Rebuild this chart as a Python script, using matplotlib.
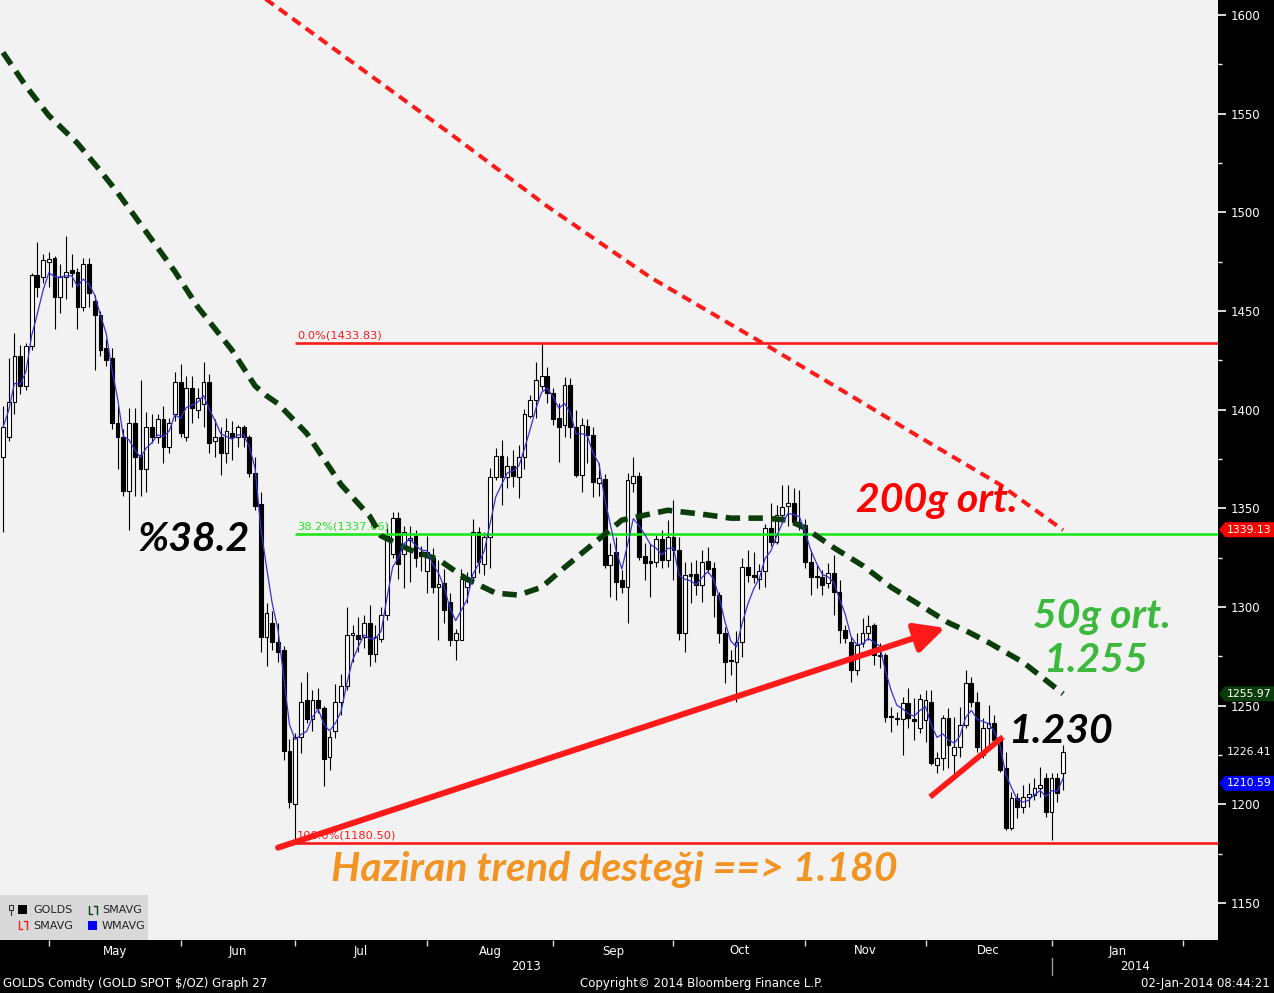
import matplotlib

matplotlib.use("Agg")
import matplotlib.pyplot as plt
import matplotlib.transforms as mtransforms
from matplotlib.lines import Line2D
from matplotlib.patches import Polygon, Rectangle
import numpy as np
import pandas as pd

# GOLDS daily candles, one per weekday, first bar 19-Apr-2013
FIRST_DAY = "2013-04-19"

OPEN = [
    1376, 1386, 1404, 1427, 1412, 1432, 1468, 1467, 1475, 1477,
    1457, 1467, 1471, 1470, 1452, 1474, 1455, 1448, 1431, 1426,
    1393, 1386, 1359, 1393, 1377, 1370, 1391, 1386, 1395, 1381,
    1398, 1414, 1386, 1411, 1400, 1403, 1414,
    1384, 1386, 1378, 1388, 1386, 1391, 1386, 1368, 1352, 1285,
    1292, 1282, 1278, 1227, 1200, 1234, 1253, 1243, 1253, 1249,
    1224, 1237, 1252, 1260, 1286, 1286, 1285, 1292, 1276, 1284,
    1296, 1327, 1345, 1327, 1334, 1336, 1328, 1318, 1325,
    1310, 1312, 1302.5, 1283, 1283, 1310, 1315, 1338, 1322, 1335.5,
    1366, 1376.5, 1366, 1371.5, 1366, 1376, 1397, 1405, 1412, 1417,
    1408.5, 1396, 1392, 1412.5, 1391.3, 1367, 1391.7, 1387, 1363, 1365,
    1321.3, 1327.9, 1313.7, 1310, 1362.8, 1366.4, 1325.8,
    1323.5, 1323, 1334.5, 1324, 1335.5, 1329, 1287, 1316.7, 1316.7, 1311,
    1323.3, 1319.8, 1306, 1287, 1273, 1272, 1282, 1320.3, 1316, 1314,
    1318, 1340, 1333, 1346.6, 1351, 1352.7, 1343, 1341.5, 1322.8, 1315.5,
    1315, 1312, 1317.2, 1307.6, 1288.3, 1282.3, 1268, 1281.8,
    1286.8, 1291, 1275.5, 1275.7, 1244.5, 1243, 1243, 1251.3, 1243, 1238.7,
    1242.7, 1251.9, 1220, 1223.5, 1243.8, 1225, 1229, 1240, 1261.5, 1252,
    1225, 1238.7, 1241.2, 1232.6, 1218.4, 1188, 1203.2, 1198.6, 1203.7, 1204.7,
    1208.3, 1213.3, 1196.1, 1213.3, 1215.9,
]
HIGH = [
    1402, 1426, 1439, 1433, 1434, 1469, 1485, 1479, 1480, 1478,
    1474, 1488, 1479, 1472, 1477, 1477, 1458, 1450, 1436, 1431,
    1402, 1390, 1401, 1401, 1415, 1399, 1398, 1398, 1402, 1396,
    1419, 1423, 1417, 1417, 1411, 1424, 1418,
    1395, 1391, 1396, 1394, 1392, 1392, 1387, 1376, 1358, 1302,
    1298, 1292, 1280, 1233, 1236, 1262, 1267, 1258, 1259, 1250,
    1237, 1261, 1266, 1300, 1291, 1295, 1296, 1301, 1291, 1300,
    1342, 1348, 1348, 1341, 1341, 1339, 1331, 1336, 1330,
    1324, 1319, 1307, 1289, 1319, 1317.5, 1344.6, 1340.5, 1338, 1370.4,
    1380.6, 1384.6, 1376.5, 1379.6, 1382, 1400.3, 1407.4, 1424, 1433.8, 1421.6,
    1411, 1403.4, 1416.5, 1416, 1400, 1396, 1395, 1391, 1373, 1367.4,
    1332.4, 1335.5, 1318.7, 1368, 1376, 1368.4, 1332.4,
    1332, 1336.5, 1339, 1344, 1354, 1335.5, 1322.8, 1322.8, 1323.8, 1329,
    1330.4, 1323, 1307.6, 1289.9, 1278, 1288, 1325, 1329, 1328, 1322,
    1342, 1352.7, 1351.7, 1362, 1362, 1360.3, 1359.3, 1344.6, 1329, 1321.3,
    1318.7, 1322.3, 1326.3, 1313.7, 1290.9, 1284.8, 1286.8, 1294.4,
    1296, 1292, 1281.8, 1276.7, 1249.3, 1246.8, 1254.4, 1259, 1254, 1256,
    1258, 1258, 1226.5, 1245.2, 1248.8, 1244.3, 1249.3, 1268.1, 1264.5, 1257,
    1243.8, 1250.3, 1245.2, 1234, 1226.5, 1206.2, 1205.7, 1209.8, 1210.8, 1213.3,
    1219, 1215.9, 1215.9, 1215.9, 1230,
]
LOW = [
    1338, 1384, 1398, 1408, 1410, 1430, 1457, 1464, 1462, 1441,
    1449, 1456, 1462, 1441, 1450, 1452, 1420, 1427, 1422, 1390,
    1370, 1356, 1339, 1356, 1356, 1358, 1383, 1383, 1373, 1378,
    1394, 1386, 1384, 1393, 1396, 1391, 1378,
    1376, 1367, 1373, 1374.5, 1381, 1381, 1366, 1349, 1277, 1270,
    1278, 1272, 1222.5, 1198, 1180.5, 1226, 1241, 1237, 1246, 1209,
    1217.5, 1233.5, 1245, 1258, 1272, 1277, 1279, 1270, 1272, 1282,
    1293.4, 1325, 1314, 1309.6, 1312.7, 1320, 1318, 1307, 1307,
    1283, 1292, 1280, 1273, 1283, 1302, 1312, 1317, 1316, 1319.8,
    1364.3, 1351.7, 1360.3, 1360.8, 1355, 1370, 1395.8, 1396, 1410, 1403.4,
    1392.2, 1373.5, 1386, 1385.6, 1366, 1358, 1373, 1355.7, 1356, 1319.8,
    1305, 1303.5, 1307, 1291.9, 1358, 1323.8, 1313.7,
    1305, 1320, 1319.8, 1320, 1313.7, 1283, 1277, 1302, 1306, 1302.5,
    1317.2, 1295, 1281.8, 1261.5, 1265.5, 1251.8, 1274.7, 1312.7, 1312, 1309,
    1310, 1331, 1332, 1342.5, 1341, 1341.5, 1339, 1319.8, 1306, 1309.6,
    1306, 1309.6, 1295.9, 1281.8, 1281.8, 1262, 1265.5, 1279.7,
    1283, 1270.6, 1269, 1241.7, 1236.7, 1240, 1225, 1238.7, 1232.6, 1236,
    1231.6, 1219.9, 1215.9, 1217.4, 1218.4, 1214.9, 1224, 1238.7, 1249.3, 1226.5,
    1223.5, 1229, 1231, 1216.4, 1187, 1187, 1193, 1195.6, 1198.6, 1202.2,
    1203.7, 1193.6, 1181.9, 1201.2, 1207.3,
]
CLOSE = [
    1391, 1404, 1427, 1412, 1432, 1468, 1462, 1476, 1476.5, 1457,
    1467, 1470, 1469, 1452, 1474, 1459, 1448, 1430, 1425, 1393,
    1386, 1359, 1393, 1376, 1370, 1391, 1386, 1395, 1381, 1393,
    1414, 1388, 1411, 1401, 1406, 1414, 1383,
    1386, 1378, 1389, 1386, 1391, 1386, 1368, 1351, 1285, 1297,
    1282, 1277, 1227, 1201, 1234, 1252, 1243, 1253, 1249, 1223,
    1234, 1252, 1260, 1286, 1286.5, 1284, 1292, 1276, 1285, 1296,
    1336, 1345, 1322, 1338, 1335, 1325, 1326, 1328, 1310,
    1311.5, 1298.5, 1283, 1287, 1314, 1315, 1338, 1323, 1335.5, 1366,
    1376.5, 1366, 1371.5, 1366.4, 1376, 1398, 1405, 1415, 1417, 1408.4,
    1395.3, 1391, 1412.5, 1391.3, 1367, 1392, 1387, 1363.3, 1365.4, 1321.3,
    1326.4, 1312.7, 1310, 1364.4, 1366.4, 1325.3, 1322.3,
    1322.5, 1334.5, 1324, 1335.5, 1329, 1287, 1316.2, 1315.7, 1311, 1322.8,
    1319.3, 1306, 1287, 1272, 1272.4, 1282, 1320, 1316, 1315, 1318,
    1340, 1333, 1346.6, 1350.6, 1352.5, 1343, 1341.5, 1322.8, 1315, 1315,
    1311, 1317.2, 1307.6, 1288.3, 1284.3, 1268, 1280.7, 1286.8,
    1290.4, 1275.7, 1275, 1244.3, 1244, 1243.5, 1251.3, 1243.8, 1242, 1253.4,
    1252.8, 1220.9, 1223.5, 1243.8, 1230, 1229, 1240.2, 1261.5, 1252, 1229.1,
    1238.7, 1241.2, 1232.6, 1217.4, 1188, 1203.2, 1198.6, 1203.7, 1205, 1208.3,
    1210, 1196.1, 1213.3, 1205.7, 1226.4,
]

# 50 and 200 day simple averages (bar index, price)
SMA50_IDX = [0, 4, 8, 13, 17, 20, 24, 30, 34, 40, 44, 46, 48, 53, 59, 64, 66, 71, 76,
             81, 86, 90, 94, 98, 103, 108, 116, 122, 127, 133, 137, 140, 145, 150,
             155, 160, 165, 168, 172, 178, 185]
SMA50_VAL = [1581, 1564, 1549, 1535, 1521, 1510, 1494, 1470, 1452, 1430, 1412, 1407,
             1403, 1388, 1362, 1346, 1336, 1329, 1324, 1314, 1307, 1306, 1310, 1320,
             1332, 1344, 1349, 1347, 1345, 1345, 1344, 1340, 1330, 1321, 1310, 1301,
             1292, 1288, 1282, 1272, 1256]
SMA200_IDX = [44, 61, 78, 95, 113, 133, 148, 160, 174, 185]
SMA200_VAL = [1612, 1576, 1540, 1503, 1467, 1433, 1407, 1386, 1362, 1339]

# Fibonacci retracement drawn from the June low bar
FIB_START = 51
FIB_LEVELS = [("0.0%", 1433.83, "#ff1a1a"),
              ("38.2%", 1337.06, "#1ee61e"),
              ("100.0%", 1180.50, "#ff1a1a")]

LAST_PRICE = 1226.41
LAST_TAGS = [("1339.13", 1339.13, "#ff0000"),
             ("1255.97", 1255.97, "#0b3d0b"),
             ("1210.59", 1210.59, "#0000ff")]

# hand drawn lines (bar index, price)
TREND_ARROW = [(48.0, 1178.0), (164.4, 1289.4)]
TREND_SHORT = [(161.8, 1203.7), (174.5, 1234.1)]

W, H = 1274, 993

o, h, l, c = (np.array(v, dtype=float) for v in (OPEN, HIGH, LOW, CLOSE))
idx = np.arange(len(c))

# WMAVG: 5-bar weighted average of the closes
wma = np.empty_like(c)
for i in range(len(c)):
    win = c[max(0, i - 4): i + 1]
    w = np.arange(1, len(win) + 1)
    wma[i] = (win * w).sum() / w.sum()

fig = plt.figure(figsize=(W / 100, H / 100), dpi=100, facecolor="black")
ax = fig.add_axes([0, 1 - 940 / H, 1218 / W, 940 / H])
ax.set_facecolor("#f2f2f2")
for s in ax.spines.values():
    s.set_visible(False)
ax.set_xlim(-0.52, 212.04)
ax.set_ylim(1131.2, 1607.6)

# candles
ax.vlines(idx, l, h, color="black", lw=0.8, zorder=3)
up = c >= o
body_lo = np.minimum(o, c)
body_h = np.maximum(np.abs(c - o), 0.7)
ax.bar(idx[up], body_h[up], bottom=body_lo[up], width=0.66, color="white",
       edgecolor="black", linewidth=0.8, zorder=4)
ax.bar(idx[~up], body_h[~up], bottom=body_lo[~up], width=0.66, color="black",
       edgecolor="black", linewidth=0.8, zorder=4)

# fibonacci levels
for name, lvl, col in FIB_LEVELS:
    ax.hlines(lvl, FIB_START, 212.04, color=col, lw=1.9, zorder=5)
    ax.text(FIB_START + 0.3, lvl + 1.2, f"{name}({lvl:.2f})", color=col, fontsize=8.2,
            ha="left", va="bottom", zorder=5)

# moving averages
ax.plot(SMA200_IDX, SMA200_VAL, color="#ff1a1a", lw=2.9, ls=(0, (2.5, 1.6)), zorder=6)
ax.plot(SMA50_IDX, SMA50_VAL, color="#0b3d0b", lw=4.0, ls=(0, (2.6, 1.5)), zorder=6)
ax.plot(idx, wma, color="#3434d6", lw=0.9, zorder=7)

# trend lines
(x0, y0), (x1, y1) = TREND_ARROW
ax.annotate("", xy=(x1, y1), xytext=(x0, y0), zorder=8,
            arrowprops=dict(arrowstyle="-|>,head_length=0.9,head_width=0.45",
                            color="#ff1a1a", lw=4.3, mutation_scale=20,
                            shrinkA=0, shrinkB=0))
(x0, y0), (x1, y1) = TREND_SHORT
ax.plot([x0, x1], [y0, y1], color="#ff1a1a", lw=4.0, solid_capstyle="butt", zorder=8)

# annotations
big = dict(family=["Lato", "DejaVu Sans"], weight="bold", style="italic",
           ha="center", va="center", zorder=9, fontsize=29.5)
ax.text(33.3, 1334, "%38.2", color="black", **big)
ax.text(163.0, 1354, "200g ort.", color="#ff0000", **big)
ax.text(191.8, 1295, "50g ort.", color="#3cb93c", **big)
ax.text(190.6, 1273, "1.255", color="#3cb93c", **big)
ax.text(184.5, 1236.7, "1.230", color="black", **big)
ax.text(106.6, 1166.7, "Haziran trend desteği ==> 1.180", color="#f39422", **big)

# right price axis
ax.yaxis.tick_right()
ax.set_yticks(np.arange(1150, 1601, 50))
ax.set_yticks(np.arange(1175, 1600, 50), minor=True)
ax.tick_params(axis="y", which="major", colors="white", length=6, width=1.2,
               pad=3, labelsize=8.5)
ax.tick_params(axis="y", which="minor", colors="white", length=3, width=1)


def to_fig(px, py):
    return px / W, 1 - py / H


def price_py(v):
    return H - ax.transData.transform((0, v))[1]


for label, v, col in LAST_TAGS:
    py = price_py(v)
    pts = [to_fig(1219, py), to_fig(1225, py - 7.5), to_fig(W, py - 7.5),
           to_fig(W, py + 7.5), to_fig(1225, py + 7.5)]
    fig.add_artist(Polygon(pts, closed=True, transform=fig.transFigure,
                           facecolor=col, edgecolor="none", zorder=5))
    fx, fy = to_fig(1227, py)
    fig.text(fx, fy, label, color="white", fontsize=7.8, ha="left", va="center", zorder=6)
fx, fy = to_fig(1227, price_py(LAST_PRICE))
fig.text(fx, fy, f"{LAST_PRICE:.2f}", color="white", fontsize=7.8, ha="left", va="center")

# bottom date axis
dates = pd.bdate_range(FIRST_DAY, periods=215)
month_start = [i for i in range(1, len(dates)) if dates[i].month != dates[i - 1].month]
ax.set_xticks(month_start)
ax.tick_params(axis="x", colors="#dddddd", length=4, width=1, labelbottom=False)
trans = mtransforms.blended_transform_factory(ax.transData, fig.transFigure)
for a, b in zip(month_start[:-1], month_start[1:]):
    ax.text((a + b) / 2, 1 - 951 / H, dates[a].strftime("%b"), transform=trans,
            color="white", fontsize=8.5, ha="center", va="center", clip_on=False)
jan = next(i for i in month_start if dates[i].year == 2014)
ax.text((-0.52 + jan) / 2, 1 - 967 / H, "2013", transform=trans, color="white",
        fontsize=8.5, ha="center", va="center", clip_on=False)
ax.text((jan + 212.04) / 2, 1 - 967 / H, "2014", transform=trans, color="white",
        fontsize=8.5, ha="center", va="center", clip_on=False)
ax.add_line(Line2D([jan, jan], [1 - 958 / H, 1 - 975 / H], transform=trans,
                   color="#9a9a9a", lw=1, clip_on=False))

fig.text(3 / W, 1 - 984 / H, "GOLDS Comdty (GOLD SPOT $/OZ) Graph 27", color="white",
         fontsize=8.5, ha="left", va="center")
fig.text(702 / W, 1 - 984 / H, "Copyright© 2014 Bloomberg Finance L.P.", color="white",
         fontsize=8.5, ha="center", va="center")
fig.text(1270 / W, 1 - 984 / H, "02-Jan-2014 08:44:21", color="white",
         fontsize=8.5, ha="right", va="center")

# legend box
fig.add_artist(Rectangle(to_fig(0, 940), 148 / W, 45 / H, transform=fig.transFigure,
                         facecolor="#d9d9d9", edgecolor="none", zorder=3))


def box(x, y, w, hh, **kw):
    fig.add_artist(Rectangle(to_fig(x, y + hh), w / W, hh / H, transform=fig.transFigure,
                             zorder=4, **kw))


def bracket(x, y, col):
    for xs, ys in (([x + 1, x + 1, x + 4], [y, y + 8, y + 8]),
                   ([x + 6, x + 9, x + 9], [y, y, y + 8])):
        fx_, fy_ = zip(*(to_fig(a, b) for a, b in zip(xs, ys)))
        fig.add_artist(Line2D(fx_, fy_, transform=fig.transFigure, color=col, lw=1, zorder=4))


box(9, 905, 4, 5, facecolor="none", edgecolor="#333333", lw=0.8)
fig.add_artist(Line2D(*zip(to_fig(11, 910), to_fig(11, 915)), transform=fig.transFigure,
                      color="#333333", lw=0.8, zorder=4))
box(18, 905, 9, 9, facecolor="black", edgecolor="none")
bracket(88, 906, "#0b3d0b")
bracket(18, 921, "#ff1a1a")
box(88, 921, 9, 9, facecolor="#0000ff", edgecolor="none")
for px, py, txt in ((33, 910, "GOLDS"), (102, 910, "SMAVG"), (33, 926, "SMAVG"), (102, 926, "WMAVG")):
    fx, fy = to_fig(px, py)
    fig.text(fx, fy, txt, color="#222222", fontsize=8, ha="left", va="center", zorder=5)

fig.savefig("out.png", dpi=100, facecolor="black")
